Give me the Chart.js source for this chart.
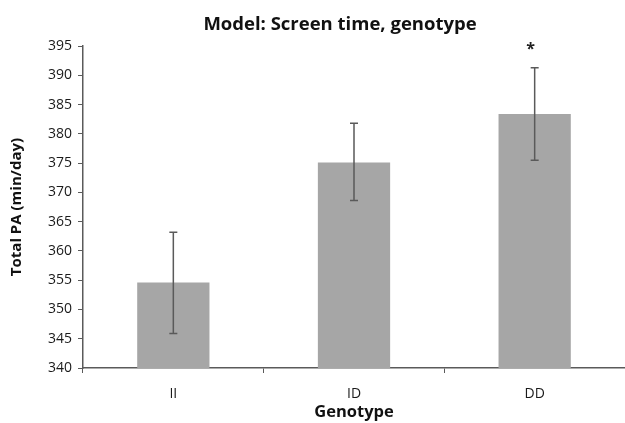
<!DOCTYPE html>
<html>
<head>
<meta charset="utf-8">
<script src="https://cdn.jsdelivr.net/npm/chart.js@4/dist/chart.umd.min.js"></script>
<style>
html,body{margin:0;padding:0;background:#fff;}
#wrap{width:625px;height:423px;}
</style>
</head>
<body>
<div id="wrap"><canvas id="c" width="625" height="423"></canvas></div>
<script>
const chartTitle = 'Model: Screen time, genotype';
const categories = ['II', 'ID', 'DD'];
const means = [354.6, 375.1, 383.4];
const errLow = [345.9, 368.6, 375.5];
const errHigh = [363.2, 381.8, 391.3];
const significance = ['', '', '*'];
const yTicks = [340, 345, 350, 355, 360, 365, 370, 375, 380, 385, 390, 395];

const FONT = "'Open Sans', 'DejaVu Sans', sans-serif";
const AXIS = '#5a5a5a';

const errorBars = {
  id: 'errorBars',
  afterDatasetsDraw(chart) {
    const ctx = chart.ctx;
    const xs = chart.scales.x, ys = chart.scales.y;
    ctx.save();
    ctx.strokeStyle = '#5a5a5a';
    ctx.lineWidth = 1.5;
    categories.forEach((c, i) => {
      const x = xs.getPixelForValue(i);
      const yl = ys.getPixelForValue(errLow[i]);
      const yh = ys.getPixelForValue(errHigh[i]);
      ctx.beginPath();
      ctx.moveTo(x, yl); ctx.lineTo(x, yh);
      ctx.moveTo(x - 4, yl); ctx.lineTo(x + 4, yl);
      ctx.moveTo(x - 4, yh); ctx.lineTo(x + 4, yh);
      ctx.stroke();
      if (significance[i]) {
        ctx.fillStyle = '#222';
        ctx.font = "bold 16px " + FONT;
        ctx.textAlign = 'center';
        ctx.textBaseline = 'bottom';
        ctx.fillText(significance[i], x - 4, yh - 10);
      }
    });
    ctx.restore();
  }
};

const titleText = {
  id: 'titleText',
  afterDraw(chart) {
    const ctx = chart.ctx;
    ctx.save();
    ctx.fillStyle = '#111';
    ctx.font = "bold 18.5px " + FONT;
    ctx.textAlign = 'center';
    ctx.textBaseline = 'middle';
    ctx.fillText(chartTitle, 340, 25);
    ctx.restore();
  }
};

new Chart(document.getElementById('c'), {
  type: 'bar',
  data: {
    labels: categories,
    datasets: [{
      data: means,
      backgroundColor: '#a6a6a6',
      borderWidth: 0,
      barPercentage: 0.4,
      categoryPercentage: 1.0
    }]
  },
  options: {
    responsive: false,
    animation: false,
    devicePixelRatio: 1,
    layout: { padding: { left: 8, right: -3, top: 46, bottom: 1 } },
    plugins: {
      legend: { display: false },
      tooltip: { enabled: false },
      title: { display: false }
    },
    scales: {
      x: {
        afterFit(scale) { scale.height = 54; },
        grid: { display: true, drawOnChartArea: false, drawTicks: true, tickLength: 5, color: AXIS, offset: true },
        border: { display: true, color: AXIS, width: 1.5 },
        ticks: { color: '#1a1a1a', font: { family: FONT, size: 14 }, padding: 13 },
        title: { display: true, text: 'Genotype', color: '#111', font: { family: FONT, size: 16.5, weight: 'bold' }, padding: { top: 0, bottom: 0 } }
      },
      y: {
        min: 340,
        max: 395,
        afterFit(scale) { scale.width = 75; },
        afterBuildTicks(scale) { scale.ticks = yTicks.map(v => ({ value: v })); },
        grid: { display: true, drawOnChartArea: false, drawTicks: true, tickLength: 5, color: AXIS },
        border: { display: true, color: AXIS, width: 1.5 },
        ticks: { color: '#1a1a1a', font: { family: FONT, size: 14 }, padding: 6 },
        title: { display: true, text: 'Total PA (min/day)', color: '#111', font: { family: FONT, size: 15, weight: 'bold' }, padding: { top: 0, bottom: 16 } }
      }
    }
  },
  plugins: [errorBars, titleText]
});
</script>
</body>
</html>
